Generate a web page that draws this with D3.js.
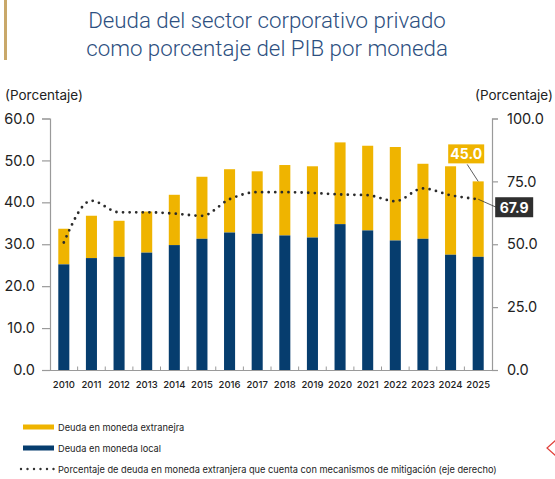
<!DOCTYPE html>
<html>
<head>
<meta charset="utf-8">
<script src="https://cdn.jsdelivr.net/npm/d3@7"></script>
<style>
  body { margin: 0; background: #fff; }
  text { font-family: Inter, 'Noto Sans', sans-serif; }
</style>
</head>
<body>
<div id="svg-container"></div>
<script>
// data
const years = ['2010', '2011', '2012', '2013', '2014', '2015', '2016', '2017',
  '2018', '2019', '2020', '2021', '2022', '2023', '2024', '2025']
const localDebt = [25.2, 26.7, 27.0, 28.0, 29.8, 31.3, 32.8, 32.5,
  32.1, 31.6, 34.8, 33.3, 30.9, 31.3, 27.5, 27.0]
const totalDebt = [33.7, 36.8, 35.6, 37.8, 41.8, 46.1, 47.9, 47.4,
  48.9, 48.6, 54.3, 53.5, 53.2, 49.2, 48.6, 45.0]
const mitigated = [50.7, 67.3, 62.7, 62.7, 62.2, 61.3, 67.9, 70.7,
  70.7, 70.4, 69.8, 69.5, 67.1, 72.2, 69.5, 67.9]
const leftTicks = [0, 10, 20, 30, 40, 50, 60]
const rightTicks = [0, 25, 50, 75, 100]

const titleLines = ['Deuda del sector corporativo privado', 'como porcentaje del PIB por moneda']
const legendItems = [
  { label: 'Deuda en moneda extranejra', type: 'bar', color: '#EFB400' },
  { label: 'Deuda en moneda local', type: 'bar', color: '#063D6E' },
  { label: 'Porcentaje de deuda en moneda extranjera que cuenta con mecanismos de mitigación (eje derecho)', type: 'dots', color: '#333' },
]

const width = 555
const height = 479
const yellow = '#EFB400'
const blue = '#063D6E'
const axisGrey = '#9a9a9a'

const svg = d3.select('#svg-container')
  .append('svg')
  .attr('width', width)
  .attr('height', height)

// header
svg.append('rect')
  .attr('x', 4).attr('y', 0).attr('width', 3).attr('height', 60)
  .attr('fill', '#C9A86A')

svg.append('g')
  .selectAll('text')
  .data(titleLines)
  .join('text')
  .attr('x', 267)
  .attr('y', (d, i) => 28 + i * 28)
  .attr('text-anchor', 'middle')
  .attr('font-size', 22.3)
  .attr('font-weight', 300)
  .attr('fill', '#2D4F80')
  .style('font-family', 'Roboto, sans-serif')
  .text(d => d)

// scales
const xScale = d3.scaleBand()
  .domain(years)
  .range([50, 492])
  .paddingInner(0.6)
  .paddingOuter(0.3)

const yLeft = d3.scaleLinear().domain([0, 60]).range([370, 118.5])
const yRight = d3.scaleLinear().domain([0, 100]).range([370, 118.5])

// axes
const leftAxis = svg.append('g')
  .attr('transform', 'translate(50,0)')
  .call(d3.axisLeft(yLeft).tickValues(leftTicks).tickFormat(d3.format('.1f')).tickSize(8).tickPadding(7))
const rightAxis = svg.append('g')
  .attr('transform', 'translate(492,0)')
  .call(d3.axisRight(yRight).tickValues(rightTicks).tickFormat(d3.format('.1f')).tickSize(6).tickPadding(9))
;[leftAxis, rightAxis].forEach(ax => {
  ax.select('.domain').attr('stroke', axisGrey).attr('stroke-width', 1.2)
  ax.selectAll('.tick line').attr('stroke', axisGrey).attr('stroke-width', 1.2)
  ax.selectAll('.tick text')
    .attr('font-size', 14.5)
    .attr('fill', '#222')
    .style('font-family', 'Inter, sans-serif')
})

const bottomAxis = svg.append('g')
  .attr('transform', 'translate(0,370)')
  .call(d3.axisBottom(xScale).tickSize(0).tickPadding(11))
bottomAxis.select('.domain').attr('stroke', axisGrey).attr('stroke-width', 1.2)
bottomAxis.selectAll('.tick text').attr('font-size', 9.5).attr('fill', '#222').attr('font-weight', 500)

// small ticks between bands
svg.append('g')
  .selectAll('line')
  .data(years.slice(1))
  .join('line')
  .attr('x1', d => xScale(d) - xScale.step() * xScale.paddingInner() / 2)
  .attr('x2', d => xScale(d) - xScale.step() * xScale.paddingInner() / 2)
  .attr('y1', 370).attr('y2', 366.5)
  .attr('stroke', axisGrey)

// axis titles
svg.append('text').attr('x', 5).attr('y', 100).attr('font-size', 13.5).attr('fill', '#222').text('(Porcentaje)')
svg.append('text').attr('x', 553).attr('y', 100).attr('text-anchor', 'end').attr('font-size', 13.5).attr('fill', '#222').text('(Porcentaje)')

// bars
const bars = svg.append('g')
bars.selectAll('.foreign')
  .data(years)
  .join('rect')
  .attr('class', 'foreign')
  .attr('x', d => xScale(d))
  .attr('width', xScale.bandwidth())
  .attr('y', (d, i) => yLeft(totalDebt[i]))
  .attr('height', (d, i) => yLeft(localDebt[i]) - yLeft(totalDebt[i]))
  .attr('fill', yellow)
bars.selectAll('.local')
  .data(years)
  .join('rect')
  .attr('class', 'local')
  .attr('x', d => xScale(d))
  .attr('width', xScale.bandwidth())
  .attr('y', (d, i) => yLeft(localDebt[i]))
  .attr('height', (d, i) => yLeft(0) - yLeft(localDebt[i]))
  .attr('fill', blue)

// dotted line (right axis)
const cx = d => xScale(d) + xScale.bandwidth() / 2
const line = d3.line()
  .curve(d3.curveMonotoneX)
  .x((d, i) => cx(years[i]))
  .y(d => yRight(d))
svg.append('path')
  .datum(mitigated)
  .attr('d', line)
  .attr('fill', 'none')
  .attr('stroke', '#2b2b2b')
  .attr('stroke-width', 2.8)
  .attr('stroke-linecap', 'round')
  .attr('stroke-dasharray', '0 6.6')

// callouts for last year
const last = years.length - 1
const lastX = cx(years[last])
const lastTop = yLeft(totalDebt[last])
const lastMit = yRight(mitigated[last])

svg.append('line')
  .attr('x1', lastX).attr('y1', lastTop)
  .attr('x2', lastX - 11).attr('y2', lastTop - 17)
  .attr('stroke', '#333').attr('stroke-width', 0.8)
svg.append('rect')
  .attr('x', lastX - 30).attr('y', lastTop - 37)
  .attr('width', 36).attr('height', 19)
  .attr('fill', yellow)
svg.append('text')
  .attr('x', lastX - 12).attr('y', lastTop - 22)
  .attr('text-anchor', 'middle')
  .attr('font-size', 14).attr('font-weight', 700).attr('fill', '#fff')
  .text(d3.format('.1f')(totalDebt[last]))

svg.append('line')
  .attr('x1', lastX).attr('y1', lastMit)
  .attr('x2', lastX + 18).attr('y2', lastMit + 8)
  .attr('stroke', '#333').attr('stroke-width', 0.8)
svg.append('rect')
  .attr('x', lastX + 17).attr('y', lastMit - 2)
  .attr('width', 38).attr('height', 20)
  .attr('fill', '#2f2f2f')
svg.append('text')
  .attr('x', lastX + 36).attr('y', lastMit + 13.5)
  .attr('text-anchor', 'middle')
  .attr('font-size', 14).attr('font-weight', 700).attr('fill', '#fff')
  .text(d3.format('.1f')(mitigated[last]))

// legend
const legend = svg.append('g')
const legendRows = legend.selectAll('g')
  .data(legendItems)
  .join('g')
  .attr('transform', (d, i) => `translate(0, ${427 + i * 21})`)
legendRows.filter(d => d.type === 'bar')
  .append('rect')
  .attr('x', 23).attr('y', -2.5).attr('width', 31).attr('height', 5)
  .attr('fill', d => d.color)
legendRows.filter(d => d.type === 'dots')
  .append('line')
  .attr('x1', 21).attr('x2', 54).attr('y1', 0).attr('y2', 0)
  .attr('stroke', d => d.color)
  .attr('stroke-width', 2.4)
  .attr('stroke-linecap', 'round')
  .attr('stroke-dasharray', '0 6.5')
legendRows.append('text')
  .attr('x', 58).attr('y', 3.5)
  .attr('font-size', 9.25)
  .attr('fill', '#222')
  .text(d => d.label)

// cropped red marker at right edge
svg.append('path')
  .attr('d', 'M556,440 L547,448 L556,456')
  .attr('fill', 'none')
  .attr('stroke', '#E0403A')
  .attr('stroke-width', 1.2)
</script>
</body>
</html>
